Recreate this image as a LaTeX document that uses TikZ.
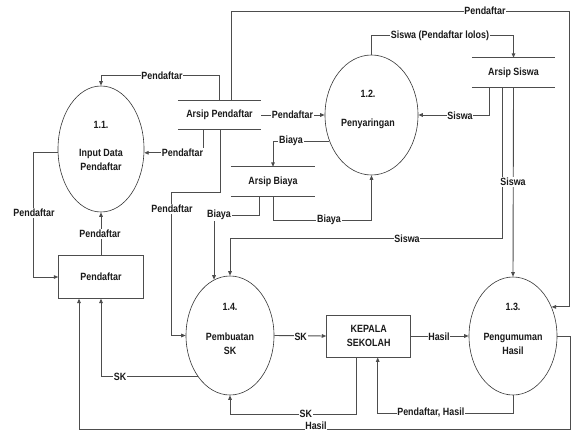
\documentclass[tikz,border=0pt]{standalone}
\usepackage{fontspec}
\setmainfont{Liberation Sans}[FakeStretch=0.85]
\usetikzlibrary{arrows.meta,shapes.geometric}
\definecolor{ln}{HTML}{4d4d4d}
\definecolor{tx}{HTML}{1a1a1a}
\tikzset{
  line/.style={draw=ln, line width=0.9pt},
  flow/.style={line, -{Triangle[length=4.5pt,width=3.6pt]}},
  proc/.style={ellipse, draw=ln!70!black, line width=0.6pt, inner sep=0pt},
  ptext/.style={align=center, text=tx, inner sep=0pt, font=\fontsize{10.5}{14}\selectfont\bfseries},
  ent/.style={rectangle, draw=ln, line width=0.9pt, align=center, inner sep=0pt, text=tx},
  store/.style={inner sep=0pt, text=tx},
  lbl/.style={fill=white, inner sep=0.8pt, text=tx},
}
\begin{document}
\begin{tikzpicture}[x=1pt, y=-1pt, font=\fontsize{10.5}{12.5}\selectfont\bfseries]
\fill[white] (0,0) rectangle (572,431);
\useasboundingbox (0,0) rectangle (572,431);

% processes
\node[proc, minimum width=86pt, minimum height=126pt] (e11) at (101,149) {};
\node[proc, minimum width=93pt, minimum height=120pt] (e12) at (371.5,115) {};
\node[proc, minimum width=88pt, minimum height=118pt] (e13) at (513,336) {};
\node[proc, minimum width=88pt, minimum height=119pt] (e14) at (230,335.5) {};
\node[ptext] (t11) at (101,146) {1.1.\\[14pt]Input Data\\Pendaftar};
\node[ptext] (t12) at (368,109) {1.2.\\[15pt]Penyaringan};
\node[ptext] (t13) at (513,329) {1.3.\\[16pt]Pengumuman\\Hasil};
\node[ptext] (t14) at (230,329) {1.4.\\[16pt]Pembuatan\\SK};

% external entities
\node[ent, minimum width=84.6pt, minimum height=42.3pt] (box) at (101,277) {Pendaftar};
\node[ent, minimum width=84pt, minimum height=42pt, font=\fontsize{10.5}{14.5}\selectfont\bfseries] (kep) at (368.7,336) {KEPALA\\SEKOLAH};

% data stores
\node[store, minimum width=83pt, minimum height=28.5pt] (ap) at (219.5,115) {Arsip Pendaftar};
\node[store, minimum width=84pt, minimum height=29pt] (ab) at (273,181.5) {Arsip Biaya};
\node[store, minimum width=83pt, minimum height=29pt] (ast) at (513.5,72.5) {Arsip Siswa};
\foreach \s in {ap,ab,ast}{
  \draw[line] (\s.north west) -- (\s.north east);
  \draw[line] (\s.south west) -- (\s.south east);
}

% data flows
\draw[flow] (ap.north) -- ++(0,-25) -| (e11.north);
\draw[flow] ([xshift=11.5pt]ap.north) |- (569,11) |- (e13.37);
\draw[flow] (ap.east) -- (e12.west);
\draw[flow] ([xshift=-16.5pt]ap.south) |- (e11.-5);
\draw[flow] (e11.185) -| ([xshift=-25pt]box.west) -- (box.west);
\draw[flow] (box.north) -- (e11.south);
\draw[flow] (e12.north) -- ++(0,-19) -| (ast.north);
\draw[flow] ([xshift=-24.5pt]ast.south) |- (e12.east);
\draw[flow] (ast.south) -- (e13.north);
\draw[flow] ([xshift=-11pt]ast.south) |- ([yshift=37pt]e14.north) -- (e14.north);
\draw[flow] (e12.212) -| (ab.north);
\draw[flow] (ab.south) -- ++(0,24) -| (e12.south);
\draw[flow] ([xshift=-14pt]ab.south) -- ++(0,19) -| (e14.106);
\draw[flow] ([xshift=0.5pt]ap.south) -- ++(0,62.7) -| ([xshift=-14pt]e14.west) -- (e14.west);
\draw[flow] (e14.232) -| (box.south);
\draw[flow] (e14.east) -- (kep.west);
\draw[flow] (kep.east) -- (e13.west);
\draw[flow] ([xshift=-12pt]kep.south) -- ++(0,57) -| (e14.south);
\draw[flow] (e13.south) -- ++(0,18) -| ([xshift=9pt]kep.south);
\draw[flow] (e13.east) -- ++(13,0) -- ++(0,93) -| ([xshift=-22pt]box.south);

% flow labels
\node[lbl] (l1) at (162,76) {Pendaftar};
\node[lbl] (l2) at (485,11) {Pendaftar};
\node[lbl] (l3) at (292.5,115) {Pendaftar};
\node[lbl] (l4) at (182.5,153) {Pendaftar};
\node[lbl] (l5) at (34,213) {Pendaftar};
\node[lbl] (l6) at (100,234) {Pendaftar};
\node[lbl] (l7) at (440,36) {Siswa (Pendaftar lolos)};
\node[lbl] (l8) at (460,116) {Siswa};
\node[lbl] (l9) at (513,182) {Siswa};
\node[lbl] (l10) at (407,239) {Siswa};
\node[lbl] (l11) at (291,141) {Biaya};
\node[lbl] (l12) at (329,220) {Biaya};
\node[lbl] (l13) at (219,215) {Biaya};
\node[lbl] (l14) at (172,209) {Pendaftar};
\node[lbl] (l15) at (120,377) {SK};
\node[lbl] (l16) at (300.7,336.5) {SK};
\node[lbl] (l17) at (439,336.5) {Hasil};
\node[lbl] (l18) at (305.8,414) {SK};
\node[lbl] (l19) at (430.8,413) {Pendaftar, Hasil};
\node[lbl] (l20) at (316,426) {Hasil};
\end{tikzpicture}
\end{document}
